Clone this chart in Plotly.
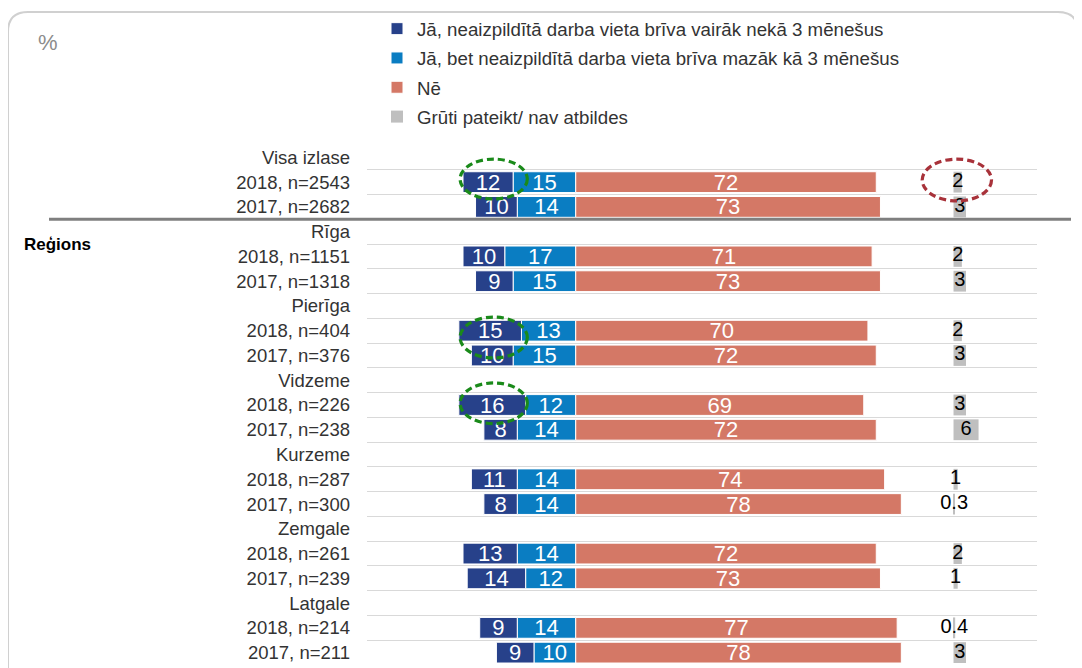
import plotly.graph_objects as go

# ---------------- data ----------------
categories = [
    "Visa izlase", "2018, n=2543", "2017, n=2682",
    "Rīga", "2018, n=1151", "2017, n=1318",
    "Pierīga", "2018, n=404", "2017, n=376",
    "Vidzeme", "2018, n=226", "2017, n=238",
    "Kurzeme", "2018, n=287", "2017, n=300",
    "Zemgale", "2018, n=261", "2017, n=239",
    "Latgale", "2018, n=214", "2017, n=211",
]
more_3m = [None, 12, 10, None, 10, 9, None, 15, 10, None, 16, 8, None, 11, 8, None, 13, 14, None, 9, 9]
less_3m = [None, 15, 14, None, 17, 15, None, 13, 15, None, 12, 14, None, 14, 14, None, 14, 12, None, 14, 10]
ne = [None, 72, 73, None, 71, 73, None, 70, 72, None, 69, 72, None, 74, 78, None, 72, 73, None, 77, 78]
gruti = [None, 2, 3, None, 2, 3, None, 2, 3, None, 3, 6, None, 1, 0.3, None, 2, 1, None, 0.4, 3]

series_names = [
    "Jā, neaizpildītā darba vieta brīva vairāk nekā 3 mēnešus",
    "Jā, bet neaizpildītā darba vieta brīva mazāk kā 3 mēnešus",
    "Nē",
    "Grūti pateikt/ nav atbildes",
]
region_label = "Reģions"
unit_label = "%"

# ---------------- style ----------------
C_DARK = "#27418A"
C_LIGHT = "#0A7DC2"
C_NE = "#D47866"
C_GRAY = "#BFBFBF"
FONT = "Liberation Sans, Arial, sans-serif"
GRAY_BASE = 90.5
XRANGE = [-50, 110.5]

OFF = 8  # default page body margin
W, H = 1082 - OFF, 668 - OFF
# plot area in page pixels: x 367..1037, y 145..665
ML, MT = 367 - OFF, 145 - OFF
MR = W - (1037 - OFF)
MB = H - (665 - OFF)
PW, PH = W - ML - MR, H - MT - MB


def px2paper_x(px):
    return (px - OFF - ML) / PW


def px2paper_y(py):
    return (H - MB - (py - OFF)) / PH


def fmt(v):
    return "" if v is None else f"{v:g}"


def neg(vals):
    return [None if v is None else -v for v in vals]


fig = go.Figure()

bar_common = dict(
    orientation="h",
    textposition="inside",
    insidetextanchor="middle",
    textangle=0,
    constraintext="none",
    marker_line=dict(color="white", width=1),
    hoverinfo="skip",
)
bar_font = dict(color="white", size=22, family=FONT)

# light blue first so it sits next to zero
fig.add_trace(go.Bar(
    y=categories, x=neg(less_3m), text=[fmt(v) for v in less_3m],
    name=series_names[1], marker_color=C_LIGHT, legendrank=2, legendgroup="b",
    textfont=bar_font, **bar_common))
fig.add_trace(go.Bar(
    y=categories, x=neg(more_3m), text=[fmt(v) for v in more_3m],
    name=series_names[0], marker_color=C_DARK, legendrank=1, legendgroup="a",
    textfont=bar_font, **bar_common))
fig.add_trace(go.Bar(
    y=categories, x=ne, text=[fmt(v) for v in ne],
    name=series_names[2], marker_color=C_NE, legendrank=3, legendgroup="c",
    textfont=bar_font, **bar_common))
fig.add_trace(go.Bar(
    y=categories, x=gruti, base=GRAY_BASE,
    name=series_names[3], marker_color=C_GRAY, legendrank=4, legendgroup="d",
    orientation="h", marker_line=dict(color=C_GRAY, width=0), hoverinfo="skip"))
fig.add_trace(go.Scatter(
    y=categories,
    x=[None if v is None else GRAY_BASE + v / 2 for v in gruti],
    text=[fmt(v) for v in gruti], mode="text", showlegend=False,
    textfont=dict(color="black", size=20, family=FONT), hoverinfo="skip"))

fig.update_layout(
    width=W, height=H,
    margin=dict(l=ML, r=MR, t=MT, b=MB, pad=0, autoexpand=False),
    barmode="relative",
    bargap=0.16,
    plot_bgcolor="white",
    paper_bgcolor="white",
    font=dict(family=FONT, color="#333333"),
    showlegend=True,
    legend=dict(
        xref="container", yref="container",
        x=(377 - OFF) / W, y=1 - (10 - OFF) / H, xanchor="left", yanchor="top",
        font=dict(size=18.7, color="#333333", family=FONT),
        traceorder="grouped", tracegroupgap=2, itemwidth=30,
        bgcolor="rgba(0,0,0,0)",
    ),
    xaxis=dict(range=XRANGE, showgrid=False, zeroline=False, showticklabels=False,
               fixedrange=True),
    yaxis=dict(
        type="category", categoryorder="array", categoryarray=categories,
        range=[len(categories) - 0.5, -0.5], autorange=False,
        tickson="boundaries", showgrid=True,
        gridcolor="#D9D9D9", gridwidth=1, ticks="", ticklabelstandoff=16,
        tickfont=dict(size=18.5, color="#333333", family=FONT),
        showline=False, zeroline=False, fixedrange=True,
    ),
)

# thick separator below "Visa izlase"
fig.add_shape(type="line", xref="paper", yref="y",
              x0=px2paper_x(49), x1=px2paper_x(1071), y0=2.5, y1=2.5,
              line=dict(color="#7F7F7F", width=3))

# rounded outer frame
x0, x1, yt, yb, r = px2paper_x(8), px2paper_x(1078), px2paper_y(12), px2paper_y(700), 20
rx, ry = r / PW, r / PH
frame = (f"M {x0},{yb} L {x0},{yt - ry} Q {x0},{yt} {x0 + rx},{yt} "
         f"L {x1 - rx},{yt} Q {x1},{yt} {x1},{yt - ry} L {x1},{yb}")
fig.add_shape(type="path", xref="paper", yref="paper", path=frame,
              line=dict(color="#D0D0D0", width=2), layer="below")

# highlight ellipses
green = dict(color="#1A8A1A", width=3.2, dash="7px,4px")
red = dict(color="#A8323A", width=3.2, dash="7px,4px")
for (ya, yb_) in [(0.07, 1.68), (6.45, 8.1), (9.11, 10.75)]:
    fig.add_shape(type="circle", xref="x", yref="y", x0=-27.7, x1=-11.6,
                  y0=ya, y1=yb_, line=green)
fig.add_shape(type="circle", xref="x", yref="y", x0=83.0, x1=99.6,
              y0=0.07, y1=1.76, line=red)

# annotations
fig.add_annotation(text=f"<b>{region_label}</b>", xref="paper", yref="y",
                   x=px2paper_x(22), y=3.5, xanchor="left", yanchor="middle",
                   showarrow=False, font=dict(size=17, color="black", family=FONT))
fig.add_annotation(text=unit_label, xref="paper", yref="paper",
                   x=px2paper_x(36), y=px2paper_y(42), xanchor="left", yanchor="middle",
                   showarrow=False, font=dict(size=22, color="#8C8C8C", family=FONT))

fig.write_html("out.html")
